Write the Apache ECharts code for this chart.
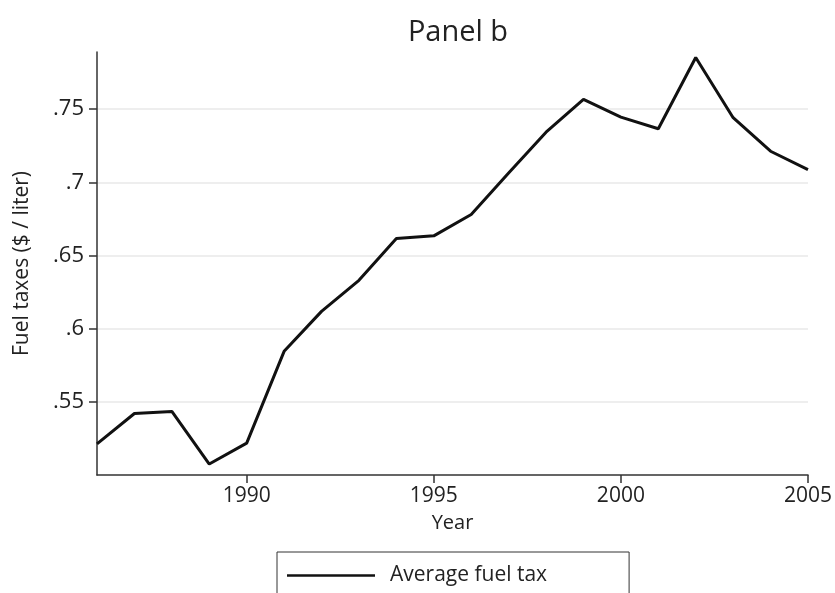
<!DOCTYPE html>
<html>
<head>
<meta charset="utf-8">
<script src="https://cdn.jsdelivr.net/npm/echarts@6/dist/echarts.min.js"></script>
<style>html,body{margin:0;padding:0;background:#fff}#c{width:835px;height:593px}</style>
</head>
<body>
<div id="c"></div>
<script>
const years = [1986,1987,1988,1989,1990,1991,1992,1993,1994,1995,1996,1997,1998,1999,2000,2001,2002,2003,2004,2005];
const fuelTax = [0.5213,0.5420,0.5434,0.5075,0.5218,0.5845,0.6118,0.6330,0.6616,0.6634,0.6780,0.7064,0.7342,0.7566,0.7445,0.7366,0.7852,0.7441,0.7212,0.7087];
const xTicks = [1990,1995,2000,2005];
const yTicks = [0.55,0.6,0.65,0.7,0.75];
const FONT = 'Open Sans';
const chart = echarts.init(document.getElementById('c'));
chart.setOption({
  backgroundColor:'#fff',
  animation:false,
  textStyle:{fontFamily:FONT,color:'#222'},
  title:{text:'Panel b',left:453,textAlign:'center',top:13,textStyle:{fontFamily:FONT,fontSize:29,fontWeight:'normal',color:'#222'}},
  grid:{left:97,right:26,top:52,bottom:118,containLabel:false},
  legend:{
    left:277,top:552,
    padding:[13,82,30,10],
    borderColor:'#333',borderWidth:1,
    itemWidth:88,itemHeight:14,itemGap:21,
    textStyle:{fontFamily:FONT,fontSize:21,color:'#222',padding:[0,0,0,10]},
    data:[{name:'Average fuel tax',icon:'path://M0,0 L100,0 L100,3 L0,3 Z',itemStyle:{color:'#111'}}]
  },
  xAxis:{
    type:'value',min:1986,max:2005,
    name:'Year',nameLocation:'middle',nameGap:38,
    nameTextStyle:{fontFamily:FONT,fontSize:20,color:'#222'},
    axisLine:{show:true,lineStyle:{color:'#333',width:1.5}},
    axisTick:{show:true,length:8,lineStyle:{color:'#333',width:1.5},customValues:xTicks},
    axisLabel:{fontFamily:FONT,fontSize:21,color:'#222',margin:11,customValues:xTicks,formatter:v=>String(v)},
    splitLine:{show:false}
  },
  yAxis:{
    type:'value',min:0.5,max:0.789,
    name:'Fuel taxes ($ / liter)',nameLocation:'middle',nameGap:64,nameRotate:90,
    nameTextStyle:{fontFamily:FONT,fontSize:21,color:'#222'},
    axisLine:{show:true,lineStyle:{color:'#333',width:1.5}},
    axisTick:{show:true,length:8,lineStyle:{color:'#333',width:1.5},customValues:yTicks},
    axisLabel:{fontFamily:FONT,fontSize:22,color:'#222',margin:13,customValues:yTicks,
      formatter:v=>String(Math.round(v*100)/100).replace(/^0/,'')},
    splitLine:{show:true,lineStyle:{color:'#e8e8e8',width:1.5},customValues:yTicks}
  },
  series:[{
    name:'Average fuel tax',type:'line',
    data:years.map((y,i)=>[y,fuelTax[i]]),
    symbol:'none',
    lineStyle:{color:'#111',width:3},
    itemStyle:{color:'#111'}
  }]
});
</script>
</body>
</html>
